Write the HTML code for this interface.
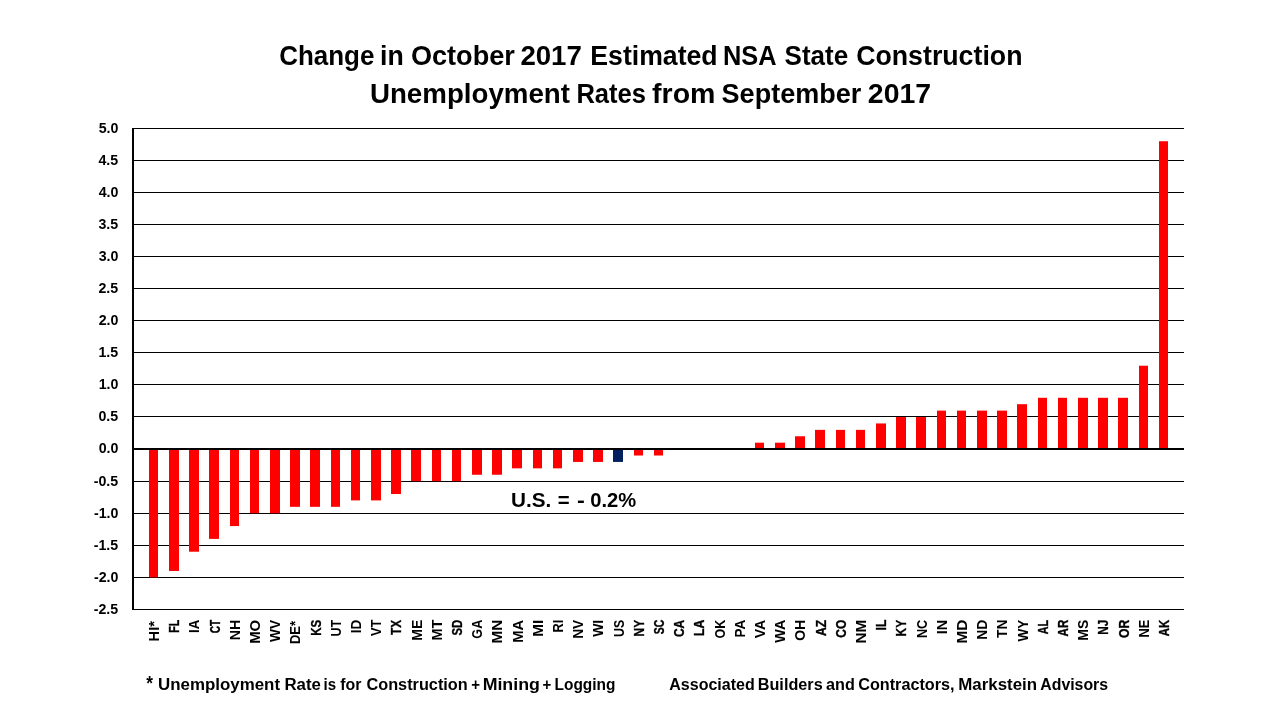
<!DOCTYPE html>
<html lang="en"><head><meta charset="utf-8"><title>Change in October 2017 Estimated NSA State Construction Unemployment Rates from September 2017</title>
<style>
html,body{margin:0;padding:0;background:#fff;}
body{width:1280px;height:720px;overflow:hidden;}
svg{display:block;}
text{font-family:"Liberation Sans",sans-serif;font-weight:bold;fill:#000;}
.t{font-size:28.2px;}
.f{font-size:17.2px;}
.y{font-size:14.2px;}
.x{font-size:14.2px;}
.xs{stroke:#000;stroke-width:0.3px;vector-effect:non-scaling-stroke;}
.u{font-size:20.5px;}
.g rect{fill:#000;}
.b rect{fill:#fe0000;}
</style></head><body>
<svg width="1280" height="720" viewBox="0 0 1280 720">
<rect width="1280" height="720" fill="#fff"/>
<g class="g">
<rect x="133" y="128" width="1051" height="1"/>
<rect x="133" y="160" width="1051" height="1"/>
<rect x="133" y="192" width="1051" height="1"/>
<rect x="133" y="224" width="1051" height="1"/>
<rect x="133" y="256" width="1051" height="1"/>
<rect x="133" y="288" width="1051" height="1"/>
<rect x="133" y="320" width="1051" height="1"/>
<rect x="133" y="352" width="1051" height="1"/>
<rect x="133" y="384" width="1051" height="1"/>
<rect x="133" y="416" width="1051" height="1"/>
<rect x="133" y="481" width="1051" height="1"/>
<rect x="133" y="513" width="1051" height="1"/>
<rect x="133" y="545" width="1051" height="1"/>
<rect x="133" y="577" width="1051" height="1"/>
<rect x="133" y="609" width="1051" height="1"/>
</g>
<g class="b">
<rect x="149.00" y="449.50" width="9.00" height="127.88"/>
<rect x="169.00" y="449.50" width="10.00" height="121.47"/>
<rect x="189.00" y="449.50" width="10.00" height="102.22"/>
<rect x="209.00" y="449.50" width="10.00" height="89.40"/>
<rect x="230.00" y="449.50" width="9.00" height="76.57"/>
<rect x="250.00" y="449.50" width="9.00" height="63.74"/>
<rect x="270.00" y="449.50" width="10.00" height="63.74"/>
<rect x="290.00" y="449.50" width="10.00" height="57.33"/>
<rect x="310.00" y="449.50" width="10.00" height="57.33"/>
<rect x="331.00" y="449.50" width="9.00" height="57.33"/>
<rect x="351.00" y="449.50" width="9.00" height="50.91"/>
<rect x="371.00" y="449.50" width="10.00" height="50.91"/>
<rect x="391.00" y="449.50" width="10.00" height="44.50"/>
<rect x="411.00" y="449.50" width="10.00" height="31.67"/>
<rect x="432.00" y="449.50" width="9.00" height="31.67"/>
<rect x="452.00" y="449.50" width="9.00" height="31.67"/>
<rect x="472.00" y="449.50" width="10.00" height="25.26"/>
<rect x="492.00" y="449.50" width="10.00" height="25.26"/>
<rect x="512.00" y="449.50" width="10.00" height="18.84"/>
<rect x="533.00" y="449.50" width="9.00" height="18.84"/>
<rect x="553.00" y="449.50" width="9.00" height="18.84"/>
<rect x="573.00" y="449.50" width="10.00" height="12.43"/>
<rect x="593.00" y="449.50" width="10.00" height="12.43"/>
<rect x="613.00" y="449.50" width="10.00" height="12.43" style="fill:#002060"/>
<rect x="634.00" y="449.50" width="9.00" height="6.01"/>
<rect x="654.00" y="449.50" width="9.00" height="6.01"/>
<rect x="755.00" y="442.69" width="9.00" height="5.81"/>
<rect x="775.00" y="442.69" width="10.00" height="5.81"/>
<rect x="795.00" y="436.27" width="10.00" height="12.23"/>
<rect x="815.00" y="429.86" width="10.00" height="18.64"/>
<rect x="836.00" y="429.86" width="9.00" height="18.64"/>
<rect x="856.00" y="429.86" width="9.00" height="18.64"/>
<rect x="876.00" y="423.44" width="10.00" height="25.06"/>
<rect x="896.00" y="417.03" width="10.00" height="31.47"/>
<rect x="916.00" y="417.03" width="10.00" height="31.47"/>
<rect x="937.00" y="410.62" width="9.00" height="37.88"/>
<rect x="957.00" y="410.62" width="9.00" height="37.88"/>
<rect x="977.00" y="410.62" width="10.00" height="37.88"/>
<rect x="997.00" y="410.62" width="10.00" height="37.88"/>
<rect x="1017.00" y="404.20" width="10.00" height="44.30"/>
<rect x="1038.00" y="397.79" width="9.00" height="50.71"/>
<rect x="1058.00" y="397.79" width="9.00" height="50.71"/>
<rect x="1078.00" y="397.79" width="10.00" height="50.71"/>
<rect x="1098.00" y="397.79" width="10.00" height="50.71"/>
<rect x="1118.00" y="397.79" width="10.00" height="50.71"/>
<rect x="1139.00" y="365.72" width="9.00" height="82.78"/>
<rect x="1159.00" y="141.23" width="9.00" height="307.27"/>
</g>
<rect x="132" y="128" width="2" height="482" fill="#000"/>
<rect x="133" y="448" width="1051" height="2" fill="#000"/>
<g>
<text class="y" x="98.64" y="132.97">5.0</text>
<text class="y" x="98.41" y="164.97">4.5</text>
<text class="y" x="98.64" y="196.97">4.0</text>
<text class="y" x="98.41" y="228.97">3.5</text>
<text class="y" x="98.64" y="260.97">3.0</text>
<text class="y" x="98.41" y="292.97">2.5</text>
<text class="y" x="98.64" y="324.97">2.0</text>
<text class="y" x="98.41" y="356.97">1.5</text>
<text class="y" x="98.64" y="388.97">1.0</text>
<text class="y" x="98.41" y="420.97">0.5</text>
<text class="y" x="98.64" y="453.47">0.0</text>
<text class="y" x="93.68" y="485.97">-0.5</text>
<text class="y" x="93.91" y="517.97">-1.0</text>
<text class="y" x="93.68" y="549.97">-1.5</text>
<text class="y" x="93.91" y="581.97">-2.0</text>
<text class="y" x="93.68" y="613.97">-2.5</text>
</g>
<g>
<text class="x" transform="translate(159.03 641.42) rotate(-90) scale(1.0340 1)">HI*</text>
<text class="x xs" transform="translate(179.23 632.80) rotate(-90) scale(0.7523 1)">FL</text>
<text class="x" transform="translate(199.43 633.03) rotate(-90) scale(0.9354 1)">IA</text>
<text class="x xs" transform="translate(219.63 633.28) rotate(-90) scale(0.7149 1)">CT</text>
<text class="x" transform="translate(239.83 640.27) rotate(-90) scale(1.0007 1)">NH</text>
<text class="x" transform="translate(260.03 643.85) rotate(-90) scale(1.0537 1)">MO</text>
<text class="x" transform="translate(280.23 641.98) rotate(-90) scale(0.9720 1)">WV</text>
<text class="x" transform="translate(300.43 644.11) rotate(-90) scale(0.9145 1)">DE*</text>
<text class="x xs" transform="translate(320.63 635.78) rotate(-90) scale(0.8124 1)">KS</text>
<text class="x" transform="translate(340.83 636.61) rotate(-90) scale(0.8908 1)">UT</text>
<text class="x" transform="translate(361.03 633.26) rotate(-90) scale(0.9516 1)">ID</text>
<text class="x" transform="translate(381.23 636.02) rotate(-90) scale(0.8966 1)">VT</text>
<text class="x xs" transform="translate(401.43 634.89) rotate(-90) scale(0.8345 1)">TX</text>
<text class="x" transform="translate(421.63 640.69) rotate(-90) scale(0.9831 1)">ME</text>
<text class="x" transform="translate(441.83 640.57) rotate(-90) scale(1.0156 1)">MT</text>
<text class="x xs" transform="translate(462.03 635.52) rotate(-90) scale(0.7995 1)">SD</text>
<text class="x" transform="translate(482.23 638.68) rotate(-90) scale(0.8890 1)">GA</text>
<text class="x" transform="translate(502.43 643.60) rotate(-90) scale(1.0800 1)">MN</text>
<text class="x" transform="translate(522.63 642.65) rotate(-90) scale(1.0370 1)">MA</text>
<text class="x" transform="translate(542.83 636.79) rotate(-90) scale(1.0800 1)">MI</text>
<text class="x" transform="translate(563.03 632.50) rotate(-90) scale(0.8979 1)">RI</text>
<text class="x" transform="translate(583.23 638.84) rotate(-90) scale(0.9678 1)">NV</text>
<text class="x" transform="translate(603.43 636.83) rotate(-90) scale(0.9843 1)">WI</text>
<text class="x" transform="translate(623.63 636.90) rotate(-90) scale(0.8696 1)">US</text>
<text class="x xs" transform="translate(643.83 636.43) rotate(-90) scale(0.8456 1)">NY</text>
<text class="x xs" transform="translate(664.03 634.31) rotate(-90) scale(0.7383 1)">SC</text>
<text class="x xs" transform="translate(684.23 637.05) rotate(-90) scale(0.8436 1)">CA</text>
<text class="x xs" transform="translate(704.43 635.94) rotate(-90) scale(0.8553 1)">LA</text>
<text class="x" transform="translate(724.63 638.48) rotate(-90) scale(0.8795 1)">OK</text>
<text class="x" transform="translate(744.83 637.55) rotate(-90) scale(0.9535 1)">PA</text>
<text class="x" transform="translate(765.03 638.32) rotate(-90) scale(0.9945 1)">VA</text>
<text class="x" transform="translate(785.23 642.77) rotate(-90) scale(1.0065 1)">WA</text>
<text class="x" transform="translate(805.43 640.81) rotate(-90) scale(0.9889 1)">OH</text>
<text class="x xs" transform="translate(825.63 635.95) rotate(-90) scale(0.8557 1)">AZ</text>
<text class="x xs" transform="translate(845.83 637.76) rotate(-90) scale(0.8455 1)">CO</text>
<text class="x" transform="translate(866.03 643.60) rotate(-90) scale(1.0800 1)">NM</text>
<text class="x xs" transform="translate(886.23 630.46) rotate(-90) scale(0.8486 1)">IL</text>
<text class="x xs" transform="translate(906.43 636.43) rotate(-90) scale(0.8456 1)">KY</text>
<text class="x" transform="translate(926.63 638.09) rotate(-90) scale(0.8940 1)">NC</text>
<text class="x" transform="translate(946.83 634.21) rotate(-90) scale(1.0181 1)">IN</text>
<text class="x" transform="translate(967.03 643.60) rotate(-90) scale(1.0800 1)">MD</text>
<text class="x" transform="translate(987.23 639.80) rotate(-90) scale(0.9775 1)">ND</text>
<text class="x" transform="translate(1007.43 637.95) rotate(-90) scale(0.9615 1)">TN</text>
<text class="x" transform="translate(1027.63 641.60) rotate(-90) scale(0.9550 1)">WY</text>
<text class="x xs" transform="translate(1047.83 634.31) rotate(-90) scale(0.7691 1)">AL</text>
<text class="x xs" transform="translate(1068.03 636.40) rotate(-90) scale(0.8118 1)">AR</text>
<text class="x" transform="translate(1088.23 640.69) rotate(-90) scale(0.9831 1)">MS</text>
<text class="x xs" transform="translate(1108.43 634.74) rotate(-90) scale(0.8259 1)">NJ</text>
<text class="x xs" transform="translate(1128.63 638.06) rotate(-90) scale(0.8598 1)">OR</text>
<text class="x" transform="translate(1148.83 637.59) rotate(-90) scale(0.9045 1)">NE</text>
<text class="x xs" transform="translate(1169.03 636.22) rotate(-90) scale(0.8029 1)">AK</text>
</g>
<g>
<text class="t" transform="translate(279.19 65.00) scale(0.9207 1)">Change</text>
<text class="t" transform="translate(380.08 65.00) scale(0.9460 1)">in</text>
<text class="t" transform="translate(410.90 65.00) scale(0.9617 1)">October</text>
<text class="t" transform="translate(520.39 65.00) scale(0.9801 1)">2017</text>
<text class="t" transform="translate(590.33 65.00) scale(0.9451 1)">Estimated</text>
<text class="t" transform="translate(722.91 65.00) scale(0.8997 1)">NSA</text>
<text class="t" transform="translate(784.59 65.00) scale(0.9216 1)">State</text>
<text class="t" transform="translate(856.16 65.00) scale(0.9483 1)">Construction</text>
<text class="t" transform="translate(369.95 103.00) scale(0.9828 1)">Unemployment</text>
<text class="t" transform="translate(576.40 103.00) scale(0.9066 1)">Rates</text>
<text class="t" transform="translate(652.05 103.00) scale(1.0123 1)">from</text>
<text class="t" transform="translate(721.58 103.00) scale(0.9592 1)">September</text>
<text class="t" transform="translate(867.86 103.00) scale(1.0089 1)">2017</text>
</g>
<text class="u" transform="translate(510.93 506.90) scale(1.0107 1)">U.S.</text>
<text class="u" transform="translate(557.86 506.90) scale(0.9933 1)">=</text>
<text class="u" transform="translate(577.01 506.90) scale(1.1478 1)">-</text>
<text class="u" transform="translate(590.27 506.90) scale(0.9848 1)">0.2%</text>
<g>
<text class="f" style="font-size:19.5px" transform="translate(146.25 690.20) scale(0.8862 1)">*</text>
<text class="f" transform="translate(157.96 690.00) scale(0.9830 1)">Unemployment</text>
<text class="f" transform="translate(284.45 690.00) scale(0.9783 1)">Rate</text>
<text class="f" transform="translate(323.56 690.00) scale(0.8749 1)">is</text>
<text class="f" transform="translate(340.25 690.00) scale(0.9257 1)">for</text>
<text class="f" transform="translate(366.49 690.00) scale(0.9466 1)">Construction</text>
<text class="f" transform="translate(471.28 690.00) scale(0.8739 1)">+</text>
<text class="f" transform="translate(482.64 690.00) scale(1.0333 1)">Mining</text>
<text class="f" transform="translate(542.53 690.00) scale(0.8739 1)">+</text>
<text class="f" transform="translate(554.53 690.00) scale(0.8988 1)">Logging</text>
<text class="f" transform="translate(669.25 690.00) scale(0.9320 1)">Associated</text>
<text class="f" transform="translate(757.74 690.00) scale(0.9434 1)">Builders</text>
<text class="f" transform="translate(826.00 690.00) scale(0.9415 1)">and</text>
<text class="f" transform="translate(858.24 690.00) scale(0.9433 1)">Contractors,</text>
<text class="f" transform="translate(958.19 690.00) scale(0.9823 1)">Markstein</text>
<text class="f" transform="translate(1040.25 690.00) scale(0.9224 1)">Advisors</text>
</g>
</svg>
</body></html>
